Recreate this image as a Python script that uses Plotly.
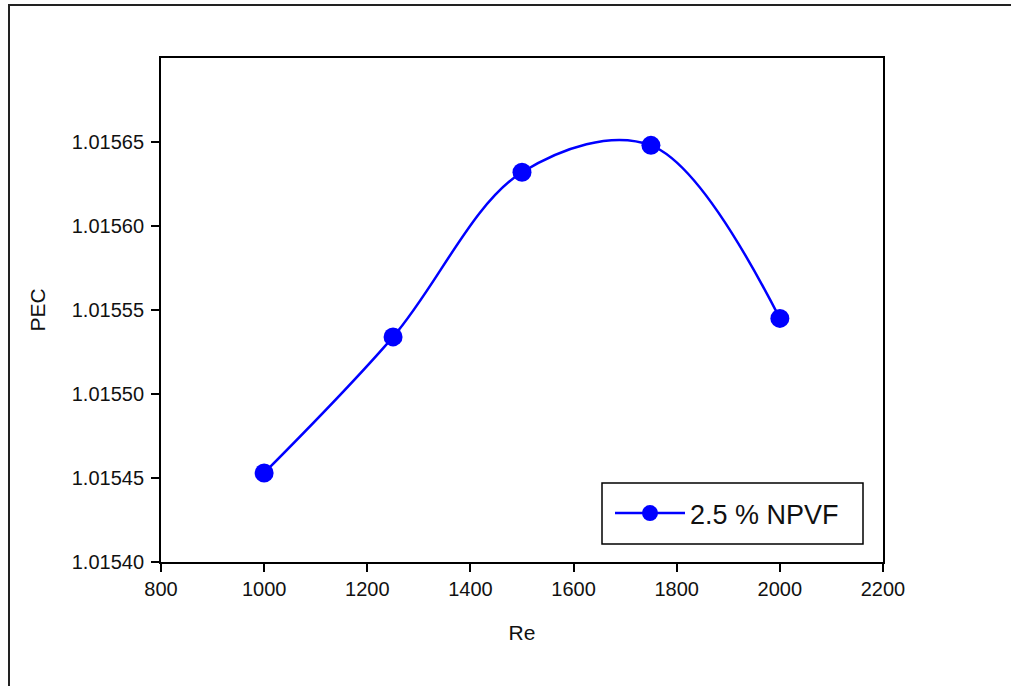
import plotly.graph_objects as go

# Performance evaluation criterion versus Reynolds number
re_values = [1000, 1250, 1500, 1750, 2000]
pec_values = [1.015453, 1.015534, 1.015632, 1.015648, 1.015545]
series_name = "2.5 % NPVF"

x_ticks = [800, 1000, 1200, 1400, 1600, 1800, 2000, 2200]
y_ticks = [1.01540, 1.01545, 1.01550, 1.01555, 1.01560, 1.01565]
y_tick_text = ["1.01540", "1.01545", "1.01550", "1.01555", "1.01560", "1.01565"]

W, H = 1011, 686
L, R, T, B = 161, 128, 58, 124
pw, ph = W - L - R, H - T - B

def px_x(p):
    return (p - L) / pw

def px_y(p):
    return (H - B - p) / ph

font_family = "Arial, Liberation Sans, sans-serif"
blue = "#0000FF"

fig = go.Figure()
fig.add_trace(go.Scatter(
    x=re_values, y=pec_values, name=series_name,
    mode="lines+markers",
    line=dict(color=blue, width=2.5, shape="spline", smoothing=1.0),
    marker=dict(color=blue, size=19),
))

axis_common = dict(
    showline=True, linecolor="black", linewidth=2, mirror=True,
    ticks="outside", ticklen=8, tickwidth=1.5, tickcolor="black",
    showgrid=False, zeroline=False,
    tickfont=dict(family=font_family, size=20, color="#111111"),
)

fig.update_xaxes(
    range=[800, 2200], tickvals=x_ticks,
    title=dict(text="Re", font=dict(family=font_family, size=21, color="#111111"), standoff=26),
    **axis_common,
)
fig.update_yaxes(
    range=[1.0154, 1.0157], tickvals=y_ticks, ticktext=y_tick_text,
    ticklabelstandoff=3,
    title=dict(text="PEC", font=dict(family=font_family, size=21, color="#111111"), standoff=20),
    **axis_common,
)

# Outer frame (left and top edges visible) and legend box
shapes = [
    dict(type="rect", xref="paper", yref="paper",
         x0=px_x(9), x1=px_x(W + 20), y0=px_y(5), y1=px_y(H + 20),
         line=dict(color="#222222", width=2), fillcolor="rgba(0,0,0,0)", layer="below"),
    dict(type="rect", xref="paper", yref="paper",
         x0=px_x(602), x1=px_x(863), y0=px_y(544), y1=px_y(483),
         line=dict(color="black", width=1.5), fillcolor="white", layer="below"),
]

fig.update_layout(
    width=W, height=H,
    margin=dict(l=L, r=R, t=T, b=B),
    paper_bgcolor="white", plot_bgcolor="white",
    showlegend=True,
    legend=dict(
        x=px_x(610), y=px_y(513.5), xanchor="left", yanchor="middle",
        bgcolor="rgba(0,0,0,0)", borderwidth=0,
        font=dict(family=font_family, size=27, color="#111111"),
        itemwidth=70,
    ),
    shapes=shapes,
)

fig.write_html("out.html")
